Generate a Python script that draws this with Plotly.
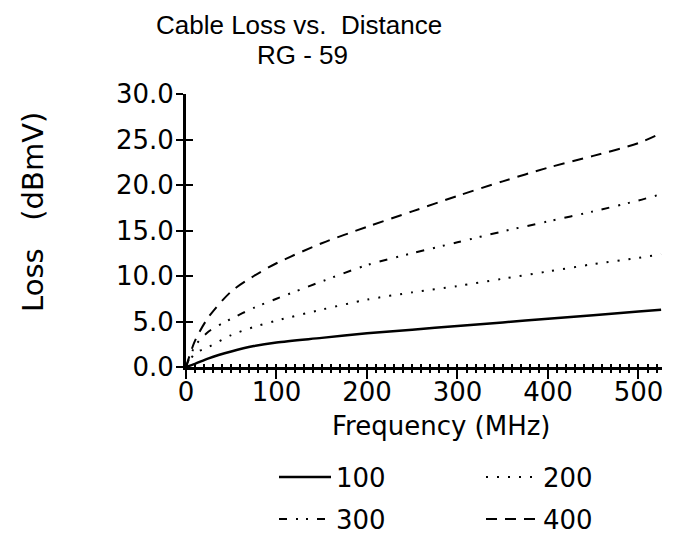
import plotly.graph_objects as go

# ---- data ----
freq = [0, 10, 25, 50, 75, 100, 150, 200, 250, 300, 350, 400, 450, 500, 525]
loss_100 = [0, 0.35, 0.95, 1.7, 2.3, 2.7, 3.2, 3.7, 4.1, 4.5, 4.9, 5.3, 5.7, 6.1, 6.3]
loss_200 = [0, 1.5, 2.2, 3.5, 4.4, 5.1, 6.3, 7.4, 8.2, 8.9, 9.7, 10.5, 11.3, 12.0, 12.4]
loss_300 = [0, 2.3, 3.9, 5.3, 6.5, 7.5, 9.4, 11.2, 12.5, 13.7, 14.9, 16.0, 17.1, 18.3, 19.0]
loss_400 = [0, 2.9, 5.5, 8.3, 10.0, 11.4, 13.6, 15.4, 17.1, 18.8, 20.4, 21.9, 23.2, 24.6, 25.7]
series_names = ["100", "200", "300", "400"]
y_ticks = [0, 5, 10, 15, 20, 25, 30]
y_tick_labels = ["0.0", "5.0", "10.0", "15.0", "20.0", "25.0", "30.0"]
x_ticks = [0, 100, 200, 300, 400, 500]

W, H = 679, 535
L, R, T, B = 186, 17, 94, 168
ph = H - T - B
pw = W - L - R

def py(pix):  # pixel row -> paper y
    return (H - B - pix) / ph

def px(pix):  # pixel col -> paper x
    return (pix - L) / pw

FONT = "DejaVu Sans"
tick_font = dict(family=FONT, size=26, color="black")
styles = [
    dict(width=2.5, dash="solid"),
    dict(width=2, dash="2px,9px"),
    dict(width=2, dash="8px,9px,2px,8px,2px,9px"),
    dict(width=2, dash="11px,8px"),
]
legend_ids = ["legend", "legend2", "legend3", "legend4"]
# legend text start (px) and row centre (px)
legend_pos = [(336, 477), (543, 477), (336, 519), (543, 519)]
ITEMW = 52

fig = go.Figure()
for name, ys, st, lg in zip(series_names, [loss_100, loss_200, loss_300, loss_400], styles, legend_ids):
    fig.add_trace(go.Scatter(
        x=freq, y=ys, mode="lines", name=name,
        line=dict(color="black", width=st["width"], dash=st["dash"], shape="spline", smoothing=0.8),
        legend=lg,
    ))

# invisible trace for the overlay axes (inside halves of crossing ticks)
fig.add_trace(go.Scatter(x=[None], y=[None], xaxis="x2", yaxis="y2", showlegend=False, hoverinfo="skip"))

xr = [0, 526]
yr = [0, 30]

layout_legends = {}
for lg, (tx, ty) in zip(legend_ids, legend_pos):
    layout_legends[lg] = dict(
        orientation="v", x=px(tx - ITEMW - 10), xanchor="left", y=py(ty), yanchor="middle",
        itemwidth=ITEMW, font=dict(family=FONT, size=26, color="black"), bgcolor="rgba(0,0,0,0)",
    )

fig.update_layout(
    width=W, height=H,
    margin=dict(l=L, r=R, t=T, b=B, autoexpand=False),
    paper_bgcolor="white", plot_bgcolor="white",
    showlegend=True,
    xaxis=dict(
        range=xr, tickvals=x_ticks, ticks="outside", ticklen=9, tickwidth=2, tickcolor="black",
        showline=True, linewidth=3, linecolor="black", showgrid=False, zeroline=False,
        tickfont=tick_font, ticklabelstandoff=-9,
        minor=dict(dtick=10, tick0=0, ticks="outside", ticklen=3, tickwidth=1.5, tickcolor="black", showgrid=False),
    ),
    yaxis=dict(
        range=yr, tickvals=y_ticks, ticktext=y_tick_labels, ticks="outside", ticklen=7, tickwidth=2,
        tickcolor="black", showline=True, linewidth=3, linecolor="black", showgrid=False, zeroline=False,
        tickfont=tick_font, ticklabelstandoff=-3,
    ),
    xaxis2=dict(
        range=xr, overlaying="x", anchor="y2", side="bottom", tickvals=x_ticks, ticks="inside", ticklen=3,
        tickwidth=2, tickcolor="black", showticklabels=False, showgrid=False, zeroline=False, showline=False,
        minor=dict(dtick=10, tick0=0, ticks="inside", ticklen=3, tickwidth=1.5, tickcolor="black", showgrid=False),
    ),
    yaxis2=dict(
        range=yr, overlaying="y", anchor="x2", side="left", tickvals=y_ticks, ticks="inside", ticklen=7,
        tickwidth=2, tickcolor="black", showticklabels=False, showgrid=False, zeroline=False, showline=False,
    ),
    annotations=[
        dict(text="Cable Loss vs.&nbsp; Distance", xref="paper", yref="paper", x=px(299), y=py(25),
             xanchor="center", yanchor="middle", showarrow=False,
             font=dict(family="Liberation Sans", size=26, color="black")),
        dict(text="RG - 59", xref="paper", yref="paper", x=px(302), y=py(55),
             xanchor="center", yanchor="middle", showarrow=False,
             font=dict(family="Liberation Sans", size=26, color="black")),
        dict(text="Loss&nbsp;&nbsp; (dBmV)", xref="paper", yref="paper", x=px(33), y=py(212),
             xanchor="center", yanchor="middle", textangle=-90, showarrow=False,
             font=dict(family=FONT, size=29, color="black")),
        dict(text="Frequency (MHz)", xref="paper", yref="paper", x=px(441), y=py(426),
             xanchor="center", yanchor="middle", showarrow=False,
             font=dict(family=FONT, size=26, color="black")),
    ],
    **layout_legends,
)

fig.write_html("out.html")
